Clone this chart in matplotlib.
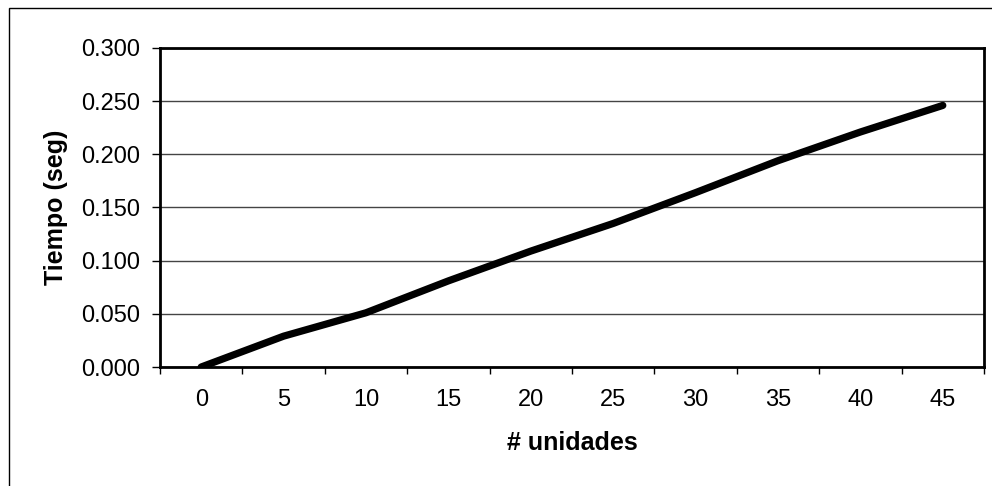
import matplotlib.pyplot as plt
from matplotlib.patches import Rectangle

# data
unidades = ["0", "5", "10", "15", "20", "25", "30", "35", "40", "45"]
tiempo = [0.000, 0.029, 0.051, 0.081, 0.109, 0.135, 0.164, 0.194, 0.221, 0.246]
y_ticks = [0.0, 0.05, 0.10, 0.15, 0.20, 0.25, 0.30]

plt.rcParams['font.family'] = ['Liberation Sans', 'DejaVu Sans']

fig = plt.figure(figsize=(9.92, 4.86), dpi=100)
ax = fig.add_axes([160 / 992, 1 - 367 / 486, (984 - 160) / 992, (367 - 48) / 486])

# outer chart-area frame (runs off right/bottom edges)
fig.patches.append(Rectangle((8.5 / 992, -0.1), 1.2, 1 - 7.5 / 486 + 0.1,
                             transform=fig.transFigure, fill=False,
                             edgecolor='black', linewidth=1.0))

x = list(range(len(unidades)))
ax.plot(x, tiempo, color='black', linewidth=5.2, solid_capstyle='round',
        solid_joinstyle='round', zorder=3)

ax.set_xlim(-0.5, len(unidades) - 0.5)
ax.set_ylim(0, 0.3)
ax.set_yticks(y_ticks)
ax.set_yticklabels([f"{v:.3f}" for v in y_ticks])
ax.set_xticks(x)
ax.set_xticklabels(unidades)
ax.set_xticks([i - 0.5 for i in range(len(unidades) + 1)], minor=True)

ax.tick_params(axis='x', which='major', length=0, pad=16, labelsize=17)
ax.tick_params(axis='x', which='minor', length=5, width=1, direction='out')
ax.tick_params(axis='y', length=6, width=1, direction='out', pad=8, labelsize=17)

ax.yaxis.grid(True, color='#444444', linewidth=1.0)
ax.set_axisbelow(True)
for s in ax.spines.values():
    s.set_linewidth(2)
    s.set_color('black')

ax.set_xlabel("# unidades", fontsize=18, fontweight='bold', labelpad=14)
ax.set_ylabel("Tiempo (seg)", fontsize=18, fontweight='bold', labelpad=10)

fig.savefig("out.png", dpi=100)
